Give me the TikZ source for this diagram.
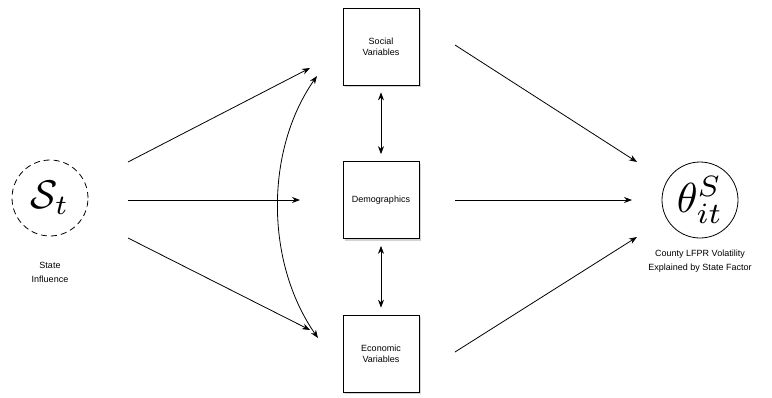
\documentclass[tikz,border=0pt]{standalone}
\usepackage{fontspec}
\setmainfont{Liberation Sans}
\usepackage{amsmath}
\usepackage{graphicx}
\usetikzlibrary{arrows.meta,shadows}
\begin{document}
\begin{tikzpicture}[x=1pt,y=-1pt,
  box/.style={draw, line width=0.7pt, fill=white, minimum width=76pt, minimum height=77pt, inner sep=1pt, align=center, font=\fontsize{9}{11}\selectfont, drop shadow={opacity=0.35, shadow xshift=2pt, shadow yshift=-2pt}},
  circ/.style={circle, draw, line width=0.8pt, fill=white, minimum size=76pt, inner sep=0pt},
  lbl/.style={align=center, font=\fontsize{9}{14}\selectfont},
  arr/.style={-{Stealth[length=8pt,width=6pt]}, line width=0.8pt},
  darr/.style={{Stealth[length=8pt,width=6pt]}-{Stealth[length=8pt,width=6pt]}, line width=0.8pt}]
\useasboundingbox (0,0) rectangle (772,397);
\node[circ, dashed, dash pattern=on 6pt off 4pt] (s) at (50,198) {\scalebox{4}{$\mathcal{S}_t$}};
\node[lbl] (sl) at (50,272) {State\\Influence};
\node[circ] (th) at (700,200) {\scalebox{4.2}{$\theta_{it}^{S}$}};
\node[lbl] (tl) at (700,261) {County LFPR Volatility\\Explained by State Factor};
\node[box] (soc) at (381,46.5) {Social\\Variables};
\node[box] (dem) at (381,200) {Demographics};
\node[box] (eco) at (381,353.5) {Economic\\Variables};
\coordinate (a1s) at (128,162); \coordinate (a1e) at (310,68);
\coordinate (a2s) at (128,200); \coordinate (a2e) at (300,200);
\coordinate (a3s) at (128,238); \coordinate (a3e) at (310,330);
\draw[arr] (a1s) -- (a1e);
\draw[arr] (a2s) -- (a2e);
\draw[arr] (a3s) -- (a3e);
\coordinate (ct) at (317,76); \coordinate (cb) at (318,338);
\draw[darr] (ct) .. controls (265,150) and (265,262) .. (cb);
\draw[darr] ([yshift=-7pt]soc.south) -- ([yshift=7pt]dem.north);
\draw[darr] ([yshift=-7pt]dem.south) -- ([yshift=7pt]eco.north);
\coordinate (b1s) at (455,45); \coordinate (b1e) at (637,162);
\coordinate (b2s) at (455,200); \coordinate (b2e) at (632,200);
\coordinate (b3s) at (455,352); \coordinate (b3e) at (637,237);
\draw[arr] (b1s) -- (b1e);
\draw[arr] (b2s) -- (b2e);
\draw[arr] (b3s) -- (b3e);
\end{tikzpicture}
\end{document}
